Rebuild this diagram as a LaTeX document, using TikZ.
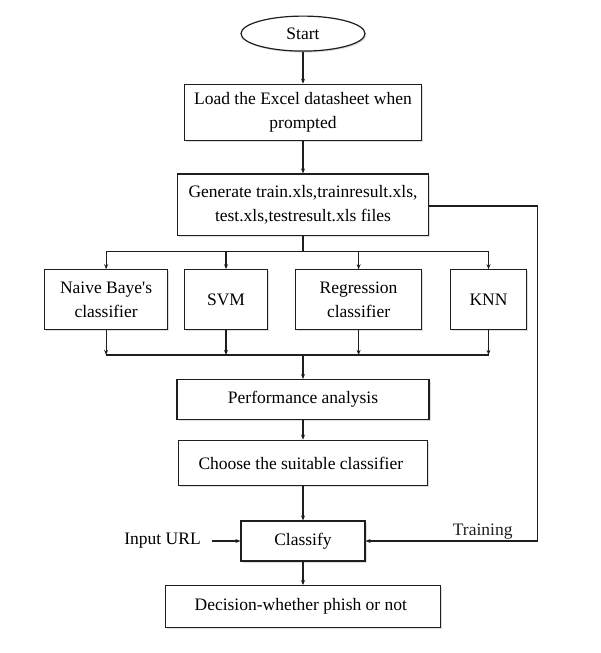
\documentclass[tikz,border=0pt]{standalone}
\usepackage{fontspec}
\setmainfont{Liberation Serif}
\usetikzlibrary{shapes.geometric, arrows.meta, positioning, shadows}
\definecolor{linecolor}{RGB}{30, 30, 30}
\definecolor{shadowcolor}{RGB}{190, 190, 190}
\newcommand{\flowfont}{\fontsize{17.5}{24}\selectfont}
\tikzset{
    % Base styles
    basenode/.style={
        draw=linecolor, line width=1.2pt, fill=white, align=center, font=\flowfont,
        inner sep=0pt,
        drop shadow={shadow xshift=1.5pt, shadow yshift=-1.5pt, fill=shadowcolor}
    },
    % Specific node types
    startnode/.style={basenode, ellipse, minimum width=124pt, minimum height=35pt},
    stepnode/.style={basenode, rectangle, minimum width=250pt, minimum height=40pt},
    classnode/.style={basenode, rectangle, minimum height=60pt},
    % Arrows
    myarrow/.style={-{Stealth[length=5pt, width=4pt]}, line width=1.2pt, linecolor},
    plainline/.style={line width=1.2pt, linecolor},
    % Labels
    textlabel/.style={font=\flowfont, inner sep=0pt},
}
\begin{document}
\begin{tikzpicture}[x=1pt, y=-1pt]
\useasboundingbox (0,0) rectangle (600,653);

% Nodes
\node (start) [startnode] at (303, 33.6) {Start};

\node (load) [stepnode, below=32pt of start, minimum width=237pt, minimum height=56.5pt] {
    Load the Excel datasheet when\\
    prompted
};

\node (gen) [stepnode, below=32pt of load, minimum width=250.5pt, minimum height=61.5pt] {
    Generate train.xls,trainresult.xls,\\
    test.xls,testresult.xls files
};

% Classifier row
\node (naive) [classnode, minimum width=123.5pt] at (106.1, 299.8) {Naive Baye\textquotesingle s\\ classifier};
\node (svm) [classnode, minimum width=82.5pt] at (226, 299.8) {SVM};
\node (regr) [classnode, minimum width=125.5pt] at (358.6, 299.8) {Regression\\ classifier};
\node (knn) [classnode, minimum width=76pt] at (488.5, 299.8) {KNN};

\node (perf) [stepnode, minimum width=252pt] at (303, 399.6) {Performance analysis};

\node (choose) [stepnode, below=19.5pt of perf, minimum width=249.5pt, minimum height=45.5pt] {
    Choose the suitable classifier
};

\node (classify) [stepnode, below=34pt of choose, minimum width=124pt] {Classify};

\node (decision) [stepnode, below=23.5pt of classify, minimum width=275.5pt, minimum height=42pt] {
    Decision-whether phish or not
};

\node (input) [textlabel, left=39.5pt of classify] {Input URL};

% Helper points
\coordinate[below=15.5pt of gen.south] (fork);
\coordinate[below=24.5pt of naive.south] (join);
\coordinate (loop) at (537.8, 206);

% Arrows
\draw[myarrow] (start) -- (load);
\draw[myarrow] (load) -- (gen);
\draw[plainline] (gen.south) -- (fork);
\draw[plainline] (naive.north |- fork) -- (knn.north |- fork);
\foreach \c in {naive, svm, regr, knn} {
    \draw[myarrow] (\c.north |- fork) -- (\c.north);
    \draw[myarrow] (\c.south) -- (\c.south |- join);
}
\draw[plainline] (naive.south |- join) -- (knn.south |- join);
\draw[myarrow] (perf.north |- join) -- (perf.north);
\draw[myarrow] (perf) -- (choose);
\draw[myarrow] (choose) -- (classify);
\draw[myarrow] (classify) -- (decision);
\draw[myarrow, shorten <=11pt] (input.east) -- (classify.west);

% Training feedback
\draw[myarrow] (gen.east |- loop) -- (loop) -- (loop |- classify.east)
    -- node[textlabel, above=1pt, pos=0.32] {Training} (classify.east);

\end{tikzpicture}
\end{document}
